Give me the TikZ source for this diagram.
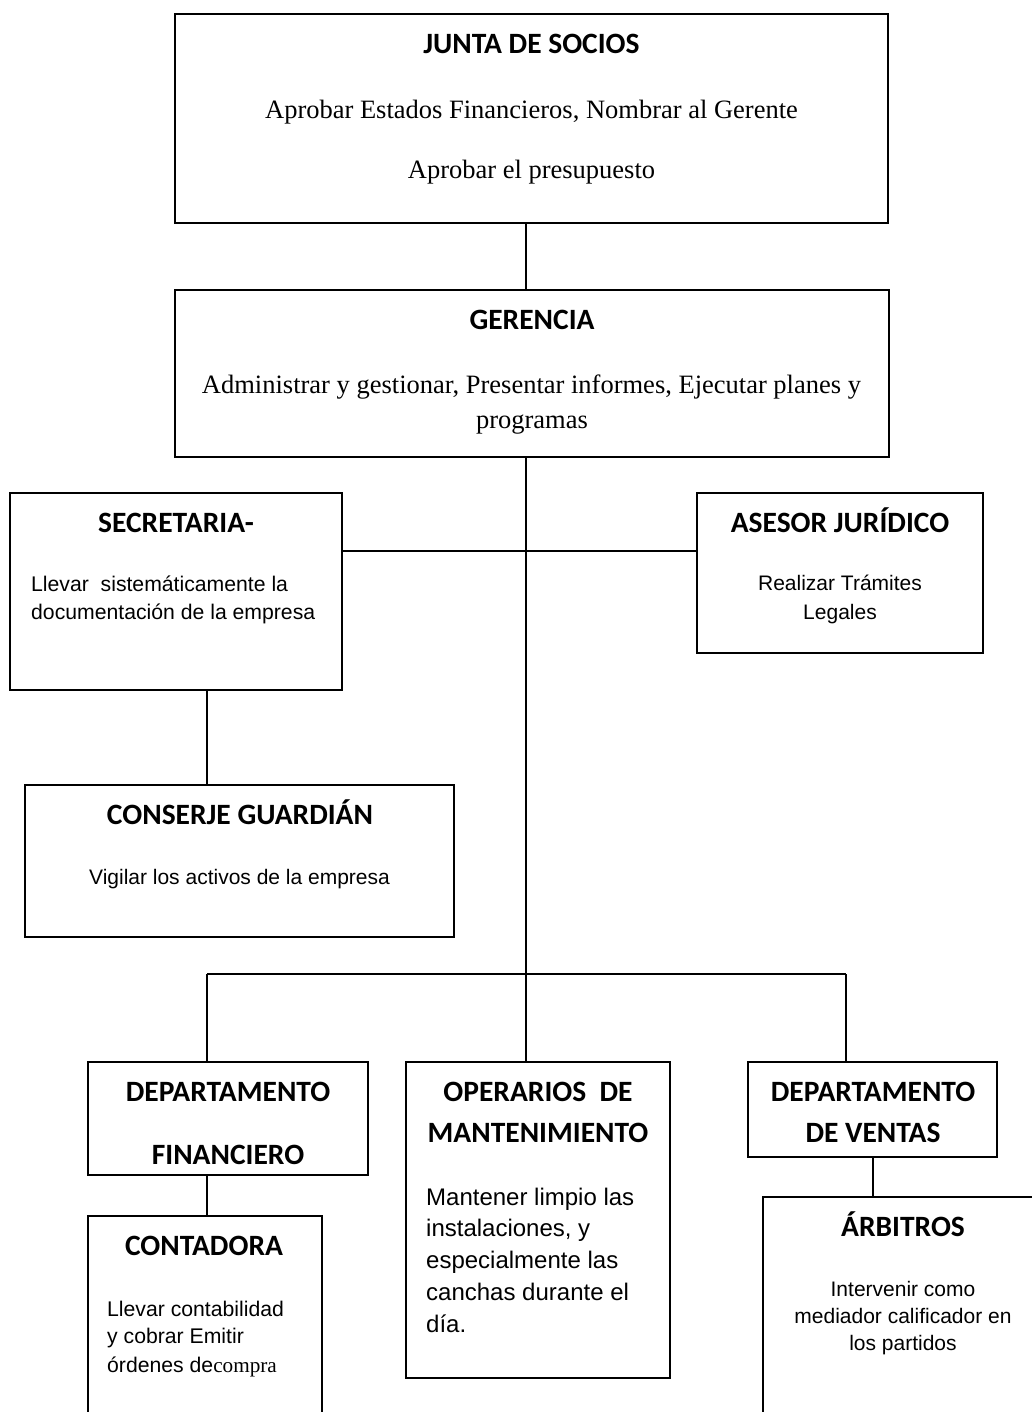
\documentclass[tikz,border=0pt]{standalone}
\usepackage{fontspec}
\setmainfont{Liberation Serif}
\newfontfamily\calfont{Carlito}
\newfontfamily\arifont{Liberation Sans}
\begin{document}
\begin{tikzpicture}[x=1pt,y=-1pt,
  box/.style={draw, line width=1.8pt, rectangle, inner sep=0pt},
  conn/.style={line width=1.5pt},
  ttl/.style={font=\calfont\bfseries\fontsize{29.5}{34}\selectfont, anchor=base, inner sep=0pt},
  serif/.style={font=\fontsize{26.5}{32}\selectfont, anchor=base, inner sep=0pt},
  sans/.style={font=\arifont\fontsize{21}{26}\selectfont, anchor=base, inner sep=0pt},
  sansl/.style={font=\arifont\fontsize{21.2}{26}\selectfont, anchor=base west, inner sep=0pt},
  sansbig/.style={font=\arifont\fontsize{24}{29}\selectfont, anchor=base west, inner sep=0pt}]
\useasboundingbox (0,0) rectangle (1032,1412);
\clip (0,0) rectangle (1032,1412);

% boxes
\node[box, minimum width=713pt, minimum height=209pt] (junta) at (531.5,118.5) {};
\node[box, minimum width=714pt, minimum height=167pt] (ger) at (532,373.5) {};
\node[box, minimum width=332pt, minimum height=197pt] (sec) at (176,591.5) {};
\node[box, minimum width=286pt, minimum height=160pt] (ase) at (840,573) {};
\node[box, minimum width=429pt, minimum height=152pt] (con) at (239.5,861) {};
\node[box, minimum width=280pt, minimum height=113pt] (fin) at (228,1118.5) {};
\node[box, minimum width=264pt, minimum height=316pt] (ope) at (538,1220) {};
\node[box, minimum width=249pt, minimum height=95pt] (ven) at (872.5,1109.5) {};
\node[box, minimum width=234pt, minimum height=240pt] (cont) at (205,1336) {};
\node[box, minimum width=297pt, minimum height=250pt] (arb) at (911.5,1322) {};

% connector helper coordinates
\coordinate (trunk) at (526,0);
\coordinate (hub) at (526,551);
\coordinate (bus) at (526,974);
\coordinate (lx) at (207,0);
\coordinate (rx) at (846,0);
\coordinate (vx) at (873,0);

% connectors
\draw[conn] (trunk |- junta.south) -- (trunk |- ger.north);
\draw[conn] (trunk |- ger.south) -- (bus);
\draw[conn] (hub -| sec.east) -- (hub -| ase.west);
\draw[conn] (lx |- sec.south) -- (lx |- con.north);
\draw[conn] (lx |- bus) -- (rx |- bus);
\draw[conn] (lx |- bus) -- (lx |- fin.north);
\draw[conn] (bus) -- (bus |- ope.north);
\draw[conn] (rx |- bus) -- (rx |- ven.north);
\draw[conn] (lx |- fin.south) -- (lx |- cont.north);
\draw[conn] (vx |- ven.south) -- (vx |- arb.north);

% texts
\node[ttl] (t1) at (531.5,53.5) {JUNTA DE SOCIOS};
\node[serif] (t1a) at (531.5,118.5) {Aprobar Estados Financieros, Nombrar al Gerente};
\node[serif] (t1b) at (531.5,178.5) {Aprobar el presupuesto};

\node[ttl] (t2) at (532,330) {GERENCIA};
\node[serif] (t2a) at (531.5,393.5) {Administrar y gestionar, Presentar informes, Ejecutar planes y};
\node[serif] (t2b) at (532,428.5) {programas};

\node[ttl] (t3) at (176,532.5) {SECRETARIA-};
\node[sansl] (t3a) at (31,591.5) {Llevar\ \ sistemáticamente la};
\node[sansl] (t3b) at (31,619.5) {documentación de la empresa};

\node[ttl] (t4) at (840,532.5) {ASESOR JURÍDICO};
\node[sans] (t4a) at (840,590.5) {Realizar Trámites};
\node[sans] (t4b) at (840,619.5) {Legales};

\node[ttl] (t5) at (240,824) {CONSERJE GUARDIÁN};
\node[sans] (t5a) at (239.5,884.5) {Vigilar los activos de la empresa};

\node[ttl] (t6) at (228,1101) {DEPARTAMENTO};
\node[ttl] (t6b) at (228,1164) {FINANCIERO};

\node[ttl] (t7) at (538,1101) {OPERARIOS\ \ DE};
\node[ttl] (t7b) at (538,1142.5) {MANTENIMIENTO};
\node[sansbig] (t7c) at (426,1205.5) {Mantener limpio las};
\node[sansbig] (t7d) at (426,1236.5) {instalaciones, y};
\node[sansbig] (t7e) at (426,1268.5) {especialmente las};
\node[sansbig] (t7f) at (426,1300.5) {canchas durante el};
\node[sansbig] (t7g) at (426,1332.5) {día.};

\node[ttl] (t8) at (873,1101) {DEPARTAMENTO};
\node[ttl] (t8b) at (873,1142.5) {DE VENTAS};

\node[ttl] (t9) at (204,1255) {CONTADORA};
\node[sansl] (t9a) at (107,1316.5) {Llevar contabilidad};
\node[sansl] (t9b) at (107,1343.5) {y cobrar Emitir};
\node[sansl] (t9c) at (107,1372) {órdenes de{\rmfamily compra}};

\node[ttl] (t10) at (903,1236.5) {ÁRBITROS};
\node[sans] (t10a) at (903,1296.5) {Intervenir como};
\node[sans] (t10b) at (903,1323) {mediador calificador en};
\node[sans] (t10c) at (903,1350) {los partidos};
\end{tikzpicture}
\end{document}
